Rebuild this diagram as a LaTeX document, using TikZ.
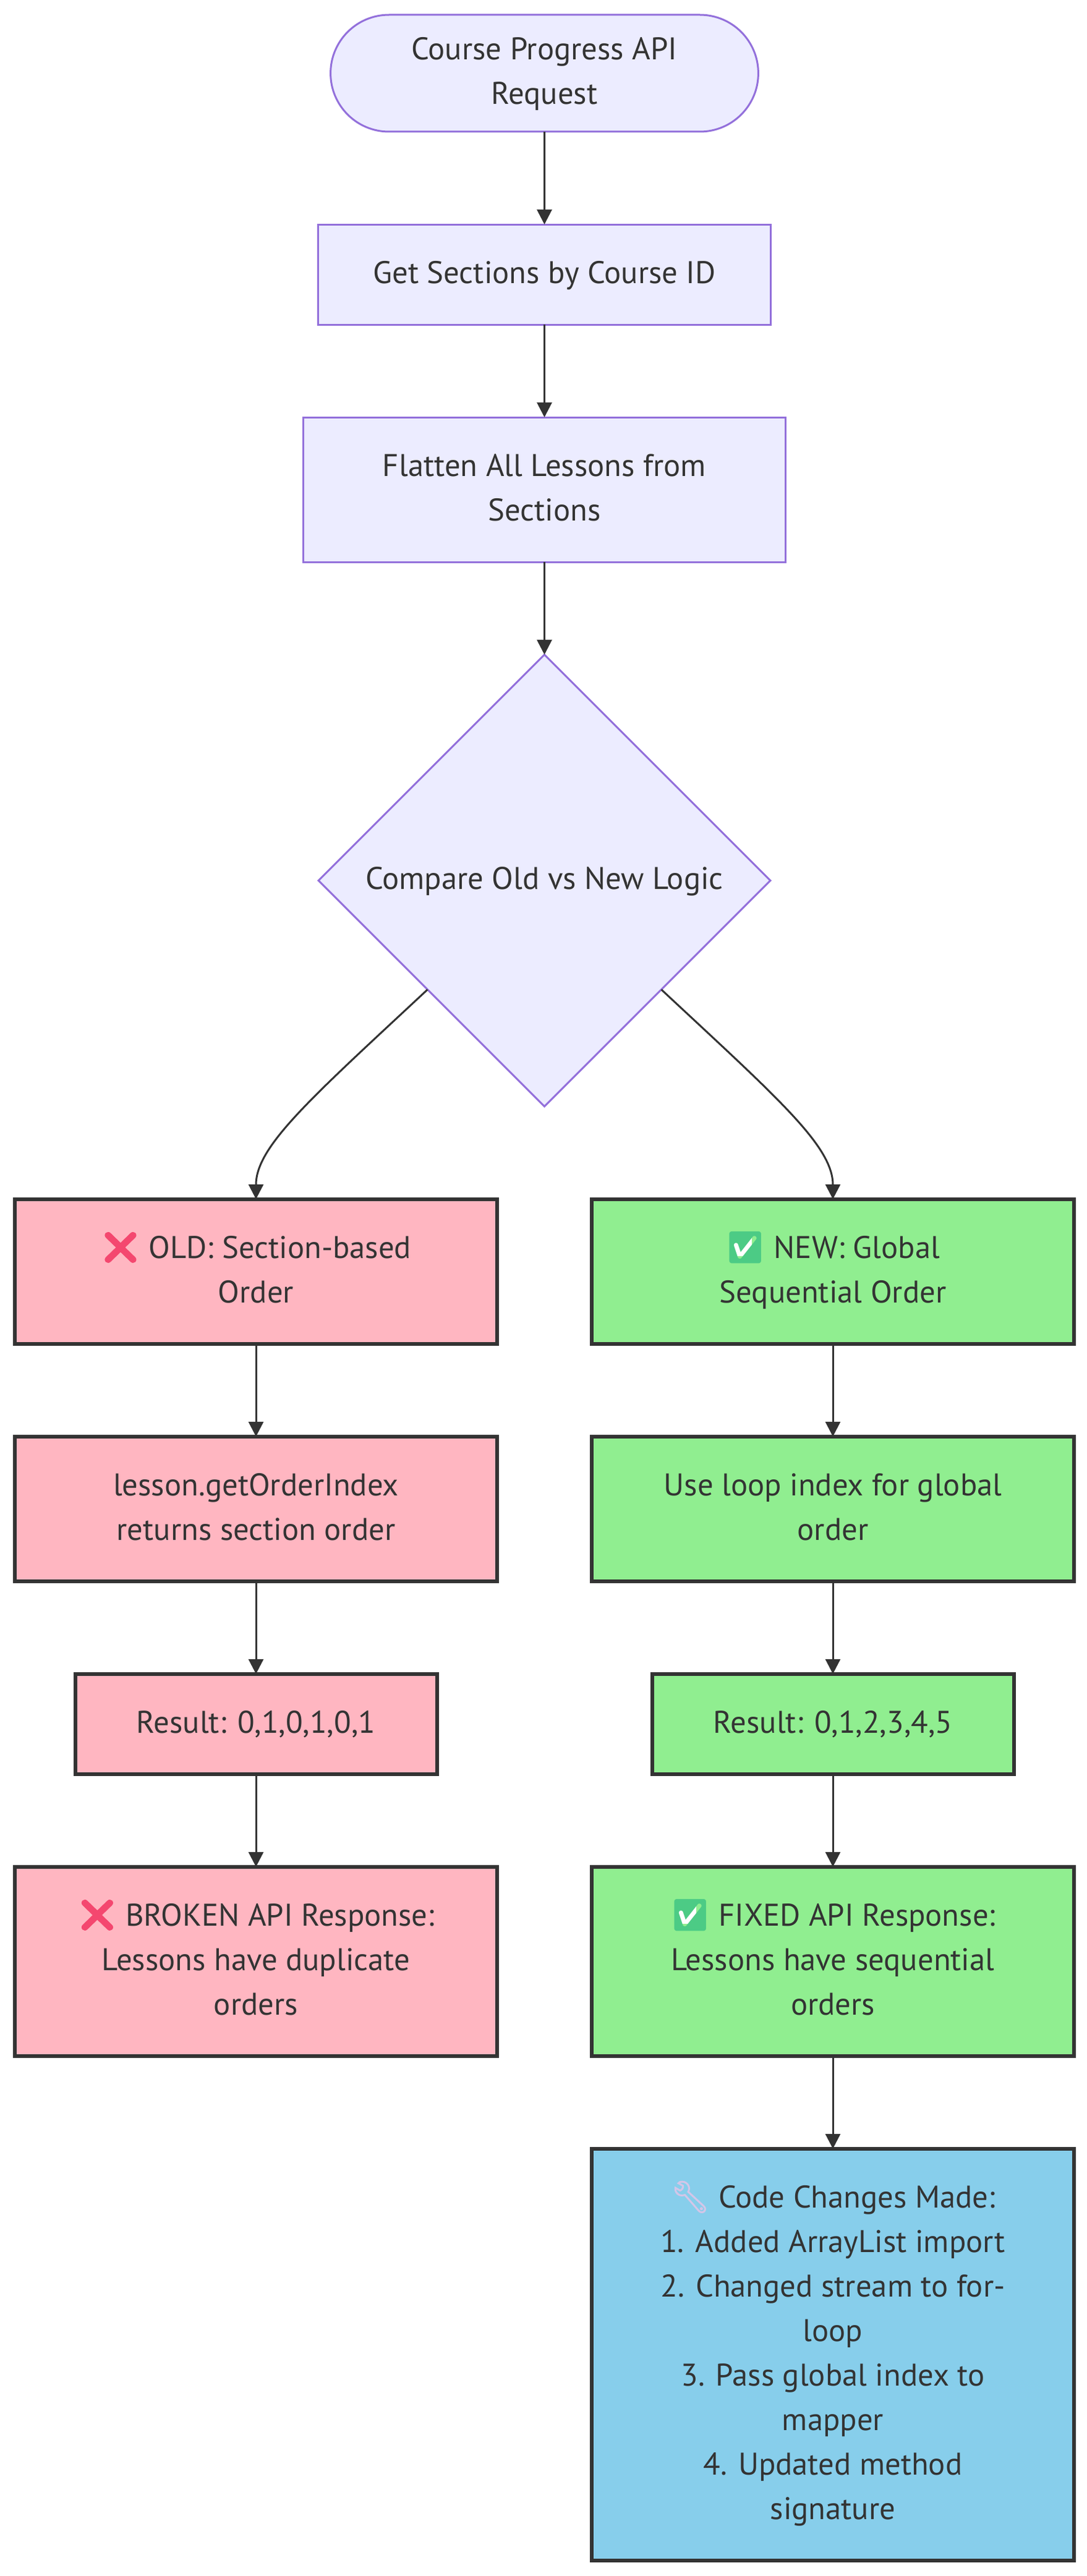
\documentclass[tikz,border=0pt]{standalone}
\usepackage{fontspec}
\setmainfont{PT Sans}
\newfontfamily\emojifont{Noto Emoji}
\newfontfamily\emojibold{Noto Emoji}[FakeBold=2]
\usetikzlibrary{positioning, arrows.meta, shapes.geometric, shapes.misc}
\definecolor{nodefill}{HTML}{ECECFF}
\definecolor{nodeline}{HTML}{9370DB}
\definecolor{ink}{HTML}{333333}
\definecolor{oldfill}{HTML}{FFB6C1}
\definecolor{newfill}{HTML}{90EE90}
\definecolor{fixfill}{HTML}{87CEEB}
\definecolor{nored}{HTML}{F4476F}
\definecolor{okgreen}{HTML}{4CCB85}
\definecolor{toolpurple}{HTML}{D3C6E8}
\newcommand{\nomark}{\smash{\color{nored}\emojibold ❌}}
\newcommand{\okmark}{\smash{\rlap{\hspace{3pt}\color{white}\rule[1pt]{11pt}{11pt}}\color{okgreen}\emojifont ✅}}
\newcommand{\toolmark}{\smash{\color{toolpurple}\emojibold 🔧}}
\tikzset{
    base/.style={align=center, inner sep=0pt, outer sep=0pt, text=ink, font=\fontsize{16.9}{24}\selectfont,
        execute at end node=\strut},
    plain/.style={base, rectangle, draw=nodeline, fill=nodefill, line width=1pt, minimum width=#1},
    oldbox/.style={base, rectangle, draw=ink, fill=oldfill, line width=2pt, minimum width=#1},
    newbox/.style={base, rectangle, draw=ink, fill=newfill, line width=2pt, minimum width=#1},
    fixbox/.style={base, rectangle, draw=ink, fill=fixfill, line width=2pt, minimum width=260pt}
}
\begin{document}
\begin{tikzpicture}[x=1pt,y=1pt,->,>={Triangle[length=8pt,width=8pt]},line width=1pt,color=ink]
    \useasboundingbox (0,0) rectangle (586,-1389);
    \node[base, rounded rectangle, draw=nodeline, fill=nodefill, line width=1pt, minimum width=230.6pt, minimum height=63pt] (req) at (293.5,-39.5) {\strut Course Progress API\\Request};
    \node[plain=244pt, minimum height=54pt] (sec) [below=50pt of req] {\strut Get Sections by Course ID};
    \node[plain=260pt, minimum height=78pt] (flat) [below=50pt of sec] {\strut Flatten All Lessons from\\Sections};
    \node[base, diamond, aspect=1, draw=nodeline, fill=nodefill, line width=1pt, minimum width=243.6pt, minimum height=243.6pt] (cmp) [below=50pt of flat] {\strut Compare Old vs New Logic};

    \node[oldbox=260pt, minimum height=78pt] (old1) [below=50pt of cmp, xshift=-155.5pt] {\strut\nomark{} OLD: Section-based\\Order};
    \node[oldbox=260pt, minimum height=78pt] (old2) [below=50pt of old1] {\strut lesson.getOrderIndex\\returns section order};
    \node[oldbox=195pt, minimum height=54pt] (old3) [below=50pt of old2] {\strut Result: 0,1,0,1,0,1};
    \node[oldbox=260pt, minimum height=102pt] (old4) [below=50pt of old3] {\strut\nomark{} BROKEN API Response:\\Lessons have duplicate\\orders};

    \node[newbox=260pt, minimum height=78pt] (new1) [below=50pt of cmp, xshift=155.5pt] {\strut\okmark{} NEW: Global\\Sequential Order};
    \node[newbox=260pt, minimum height=78pt] (new2) [below=50pt of new1] {\strut Use loop index for global\\order};
    \node[newbox=195pt, minimum height=54pt] (new3) [below=50pt of new2] {\strut Result: 0,1,2,3,4,5};
    \node[newbox=260pt, minimum height=102pt] (new4) [below=50pt of new3] {\strut\okmark{} FIXED API Response:\\Lessons have sequential\\orders};
    \node[fixbox, minimum height=222pt] (fix) [below=50pt of new4] {\strut\toolmark{} Code Changes Made:\\1. Added ArrayList import\\2. Changed stream to for-\\loop\\3. Pass global index to\\mapper\\4. Updated method\\signature};

    \path
    (req) edge (sec)
    (sec) edge (flat)
    (flat) edge (cmp)
    (cmp.223.3) edge[out=223,in=90,out looseness=1.5,in looseness=.5] (old1.north)
    (cmp.-43.3) edge[out=-43,in=90,out looseness=1.5,in looseness=.5] (new1.north)
    (old1) edge (old2)
    (old2) edge (old3)
    (old3) edge (old4)
    (new1) edge (new2)
    (new2) edge (new3)
    (new3) edge (new4)
    (new4) edge (fix)
    ;
\end{tikzpicture}
\end{document}
